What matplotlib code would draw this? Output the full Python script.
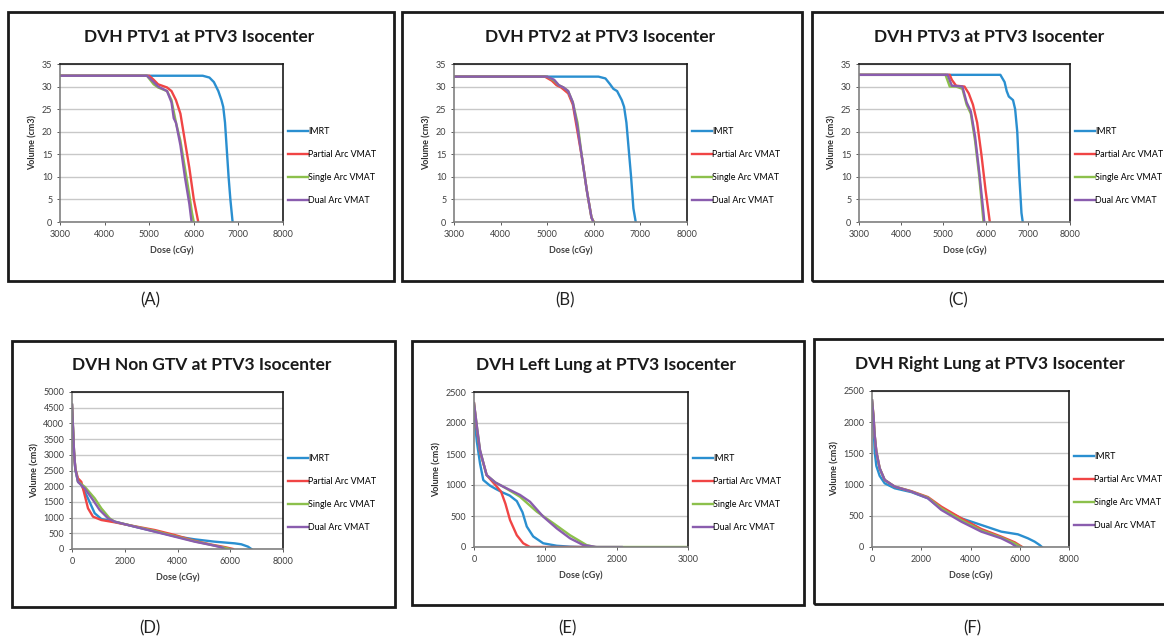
import numpy as np
import matplotlib
matplotlib.use('Agg')
import matplotlib.pyplot as plt
from matplotlib.patches import Rectangle

plt.rcParams['font.family'] = ['Lato', 'DejaVu Sans']

W, H = 1164, 636

series = ['IMRT', 'Partial Arc VMAT', 'Single Arc VMAT', 'Dual Arc VMAT']
colors = ['#2A8FD0', '#F04545', '#8CC04C', '#8A5DAE']

# ---- PTV1 (A) ----
a_imrt_x = [3000, 6200, 6350, 6450, 6550, 6620, 6660, 6700, 6740, 6780, 6820, 6850, 6870]
a_imrt_y = [32.4, 32.4, 32.0, 31.0, 29.0, 27.0, 25.5, 22.0, 16.0, 10.0, 5.0, 2.0, 0]
a_part_x = [3000, 5000, 5100, 5200, 5400, 5500, 5600, 5700, 5800, 5900, 6000, 6060, 6100]
a_part_y = [32.4, 32.4, 31.5, 30.5, 29.8, 29.0, 27.0, 24.0, 18.0, 12.0, 5.0, 2.0, 0]
a_sing_x = [3000, 4950, 5100, 5200, 5400, 5500, 5600, 5700, 5800, 5900, 5960, 6000]
a_sing_y = [32.4, 32.4, 30.5, 29.8, 29.0, 27.0, 22.0, 18.0, 12.0, 6.0, 2.0, 0]
a_dual_x = [3000, 4950, 5100, 5200, 5400, 5500, 5550, 5600, 5700, 5800, 5900, 5950]
a_dual_y = [32.4, 32.4, 31.0, 30.0, 29.0, 26.5, 23.0, 22.0, 17.0, 10.0, 4.0, 0]

# ---- PTV2 (B) ----
b_imrt_x = [3000, 6100, 6250, 6350, 6420, 6500, 6600, 6650, 6700, 6750, 6800, 6850, 6900]
b_imrt_y = [32.2, 32.2, 31.8, 30.5, 29.5, 29.0, 27.0, 25.5, 22.0, 16.0, 10.0, 3.0, 0]
b_part_x = [3000, 4950, 5100, 5200, 5300, 5450, 5550, 5650, 5750, 5850, 5950, 6000]
b_part_y = [32.2, 32.2, 31.3, 30.3, 29.8, 28.5, 26.0, 20.0, 14.0, 7.0, 1.0, 0]
b_sing_x = [3000, 5000, 5150, 5250, 5350, 5450, 5550, 5650, 5750, 5850, 5950, 6000]
b_sing_y = [32.2, 32.2, 31.3, 30.3, 29.8, 29.0, 26.5, 22.0, 14.0, 7.0, 1.0, 0]
b_dual_x = [3000, 5000, 5150, 5250, 5350, 5450, 5550, 5650, 5750, 5850, 5950, 5990]
b_dual_y = [32.2, 32.2, 31.5, 30.3, 29.8, 29.0, 26.5, 21.0, 14.0, 7.0, 1.0, 0]

# ---- PTV3 (C) ----
c_imrt_x = [3000, 6350, 6450, 6500, 6550, 6650, 6700, 6750, 6800, 6850, 6880]
c_imrt_y = [32.6, 32.6, 31.0, 29.0, 27.8, 27.0, 25.0, 20.0, 10.0, 2.0, 0]
c_part_x = [3000, 5150, 5200, 5300, 5500, 5600, 5700, 5800, 5900, 6000, 6100]
c_part_y = [32.6, 32.6, 31.5, 30.2, 30.0, 28.5, 26.0, 22.0, 15.0, 7.0, 0]
c_sing_x = [3000, 5050, 5150, 5300, 5450, 5550, 5650, 5750, 5850, 5950]
c_sing_y = [32.6, 32.6, 30.0, 30.0, 29.5, 26.0, 24.0, 18.0, 10.0, 0]
c_dual_x = [3000, 5100, 5200, 5450, 5550, 5650, 5750, 5850, 5950, 5970]
c_dual_y = [32.6, 32.6, 30.2, 30.0, 26.5, 24.5, 19.0, 11.0, 2.0, 0]

# ---- Non GTV (D) ----
d_imrt_x = [0, 76, 126, 228, 354, 607, 860, 1112, 1618, 2376, 3135, 3893, 4652, 5410, 6170, 6420, 6675, 6800]
d_imrt_y = [4590, 3100, 2520, 2150, 2040, 1610, 1140, 955, 870, 711, 560, 410, 308, 233, 180, 150, 74, 0]
d_part_x = [0, 76, 126, 228, 354, 480, 607, 796, 1112, 1618, 2376, 3135, 3893, 4652, 5284, 5800, 6106]
d_part_y = [4590, 3100, 2550, 2250, 2140, 1720, 1295, 1030, 923, 850, 725, 605, 446, 260, 140, 60, 0]
d_sing_x = [0, 76, 126, 228, 480, 860, 1112, 1428, 1618, 2376, 3135, 3893, 4652, 5284, 5700, 6000]
d_sing_y = [4590, 3100, 2560, 2140, 1985, 1614, 1295, 977, 870, 718, 575, 410, 245, 130, 55, 0]
d_dual_x = [0, 76, 126, 228, 480, 796, 1049, 1365, 1618, 2376, 3135, 3893, 4652, 5284, 5663, 5790]
d_dual_y = [4590, 3100, 2560, 2134, 1932, 1560, 1242, 977, 870, 711, 552, 393, 233, 127, 53, 0]

# ---- Left Lung (E) ----
e_imrt_x = [0, 40, 84, 130, 224, 300, 400, 500, 600, 680, 740, 830, 970, 1160, 1350, 1500]
e_imrt_y = [2150, 1700, 1350, 1080, 990, 940, 880, 830, 740, 560, 330, 170, 60, 20, 5, 0]
e_part_x = [0, 40, 84, 177, 300, 380, 440, 505, 600, 690, 785, 1000, 1300, 1600]
e_part_y = [2320, 1900, 1540, 1160, 1000, 890, 700, 435, 190, 60, 0, 0, 0, 0]
e_sing_x = [0, 40, 84, 177, 300, 410, 645, 880, 1110, 1346, 1580, 1700, 2000, 2500, 3000]
e_sing_y = [2320, 1950, 1560, 1160, 1040, 973, 810, 570, 385, 190, 30, 0, 0, 0, 0]
e_dual_x = [0, 40, 84, 177, 300, 410, 645, 785, 970, 1160, 1346, 1533, 1720, 1900, 2070]
e_dual_y = [2320, 1950, 1565, 1160, 1040, 973, 840, 730, 490, 300, 140, 30, 0, 0, 0]

# ---- Right Lung (F) ----
f_imrt_x = [0, 60, 108, 176, 311, 514, 920, 1597, 2273, 2815, 3626, 4438, 5250, 5927, 6333, 6604, 6807, 6900]
f_imrt_y = [2350, 2000, 1530, 1300, 1140, 1021, 941, 880, 780, 610, 460, 353, 246, 203, 139, 86, 32, 0]
f_part_x = [0, 60, 108, 176, 311, 514, 920, 1597, 2273, 2815, 3626, 4438, 5250, 5800, 6100]
f_part_y = [2350, 2100, 1797, 1530, 1262, 1075, 968, 895, 800, 647, 460, 289, 166, 75, 0]
f_sing_x = [0, 60, 108, 176, 311, 514, 920, 1597, 2273, 2815, 3626, 4438, 5250, 5750, 6050]
f_sing_y = [2350, 2100, 1797, 1530, 1262, 1075, 968, 890, 790, 620, 430, 265, 150, 65, 0]
f_dual_x = [0, 60, 108, 176, 311, 514, 920, 1597, 2273, 2815, 3626, 4438, 5250, 5656, 5859, 6000]
f_dual_y = [2350, 2100, 1797, 1530, 1262, 1075, 968, 888, 780, 594, 406, 246, 139, 59, 5, 0]

panels = [
    # title, data, xlim, xstep, ylim, ystep, axes box px, frame px, letter, legend centre y px
    ('DVH PTV1 at PTV3 Isocenter',
     [(a_imrt_x, a_imrt_y), (a_part_x, a_part_y), (a_sing_x, a_sing_y), (a_dual_x, a_dual_y)],
     (3000, 8000), 1000, (0, 35), 5, (60, 64, 283, 222), (8, 12, 394, 281), (150, 300, '(A)'), 166),
    ('DVH PTV2 at PTV3 Isocenter',
     [(b_imrt_x, b_imrt_y), (b_part_x, b_part_y), (b_sing_x, b_sing_y), (b_dual_x, b_dual_y)],
     (3000, 8000), 1000, (0, 35), 5, (454, 64, 687, 222), (402, 12, 802, 281), (565, 300, '(B)'), 166),
    ('DVH PTV3 at PTV3 Isocenter',
     [(c_imrt_x, c_imrt_y), (c_part_x, c_part_y), (c_sing_x, c_sing_y), (c_dual_x, c_dual_y)],
     (3000, 8000), 1000, (0, 35), 5, (859, 64, 1070, 222), (812, 12, 1170, 281), (958, 300, '(C)'), 166),
    ('DVH Non GTV at PTV3 Isocenter',
     [(d_imrt_x, d_imrt_y), (d_part_x, d_part_y), (d_sing_x, d_sing_y), (d_dual_x, d_dual_y)],
     (0, 8000), 2000, (0, 5000), 500, (72, 392, 283, 549), (12, 341, 395, 607), (150, 628, '(D)'), 493),
    ('DVH Left Lung at PTV3 Isocenter',
     [(e_imrt_x, e_imrt_y), (e_part_x, e_part_y), (e_sing_x, e_sing_y), (e_dual_x, e_dual_y)],
     (0, 3000), 1000, (0, 2500), 500, (474, 392, 688, 547), (412, 341, 804, 605), (567, 628, '(E)'), 493),
    ('DVH Right Lung at PTV3 Isocenter',
     [(f_imrt_x, f_imrt_y), (f_part_x, f_part_y), (f_sing_x, f_sing_y), (f_dual_x, f_dual_y)],
     (0, 8000), 2000, (0, 2500), 500, (872, 391, 1069, 547), (814, 339, 1170, 604), (972, 628, '(F)'), 491),
]

fig = plt.figure(figsize=(W / 100, H / 100), dpi=100)
fig.patch.set_facecolor('white')

for title, data, xlim, xstep, ylim, ystep, box, frame, letter, leg_y in panels:
    fx0, fy0, fx1, fy1 = frame
    fig.patches.append(Rectangle((fx0 / W, 1 - fy1 / H), (fx1 - fx0) / W, (fy1 - fy0) / H,
                                 transform=fig.transFigure, fill=False,
                                 edgecolor='#1a1a1a', linewidth=2.0))
    x0, y0, x1, y1 = box
    ax = fig.add_axes([x0 / W, 1 - y1 / H, (x1 - x0) / W, (y1 - y0) / H])
    for (xs, ys), c, name in zip(data, colors, series):
        ax.plot(xs, ys, color=c, linewidth=1.7, label=name)
    ax.set_xlim(*xlim)
    ax.set_ylim(*ylim)
    ax.set_xticks(np.arange(xlim[0], xlim[1] + 1, xstep))
    ax.set_yticks(np.arange(ylim[0], ylim[1] + 1, ystep))
    ax.yaxis.grid(True, color='#c8c8c8', linewidth=1.0)
    ax.set_axisbelow(True)
    ax.tick_params(labelsize=6.5, colors='#404040', length=2, width=0.6)
    for s in ax.spines.values():
        s.set_color('#1a1a1a')
        s.set_linewidth(1.2)
    ax.spines['bottom'].set_color('#808080')
    ax.spines['left'].set_color('#808080')
    ax.set_xlabel('Dose (cGy)', fontsize=6.5, fontweight='bold', color='#404040', labelpad=5)
    ax.set_ylabel('Volume (cm3)', fontsize=6.5, fontweight='bold', color='#303030', labelpad=3)
    fig.text(((fx0 + fx1) / 2 - 2) / W, 1 - (y0 - 27) / H, title, fontsize=12.5,
             fontweight='bold', ha='center', va='center', color='#1a1a1a')
    anchor_y = (y1 - leg_y) / (y1 - y0)
    ax.legend(loc='center left', bbox_to_anchor=(1.0, anchor_y), frameon=False,
              fontsize=6.4, handlelength=2.2, handletextpad=0.05, labelspacing=1.55,
              borderaxespad=0.2)
    lx, ly, lt = letter
    fig.text(lx / W, 1 - ly / H, lt, fontsize=12, ha='center', va='center', color='#222222')

fig.savefig('out.png', dpi=100)
